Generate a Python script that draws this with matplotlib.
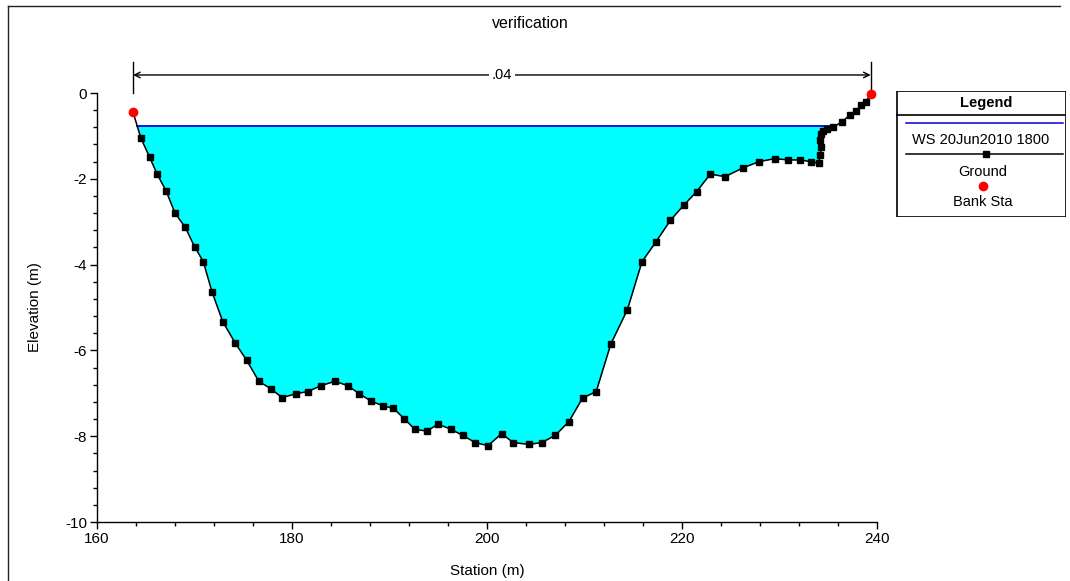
import numpy as np
import matplotlib
matplotlib.use("Agg")
import matplotlib.pyplot as plt
from matplotlib.lines import Line2D
from matplotlib.patches import Rectangle

plt.rcParams['font.family'] = ['Liberation Sans', 'DejaVu Sans']
plt.rcParams['axes.unicode_minus'] = False

# ---------------- data ----------------
station = [163.7, 164.5, 165.4, 166.15, 167.1, 168.0, 169.05, 170.0, 170.9, 171.8,
           172.9, 174.15, 175.35, 176.6, 177.8, 179.0, 180.4, 181.6, 183.0, 184.4,
           185.7, 186.9, 188.1, 189.3, 190.4, 191.5, 192.6, 193.8, 195.0, 196.3,
           197.5, 198.8, 200.1, 201.5, 202.7, 204.3, 205.6, 207.0, 208.4, 209.8,
           211.2, 212.7, 214.4, 215.9, 217.3, 218.8, 220.2, 221.5, 222.9, 224.4,
           226.3, 227.9, 229.5, 230.9, 232.1, 233.2, 234.0, 234.2, 234.3, 234.2,
           234.3, 234.5, 234.9, 235.5, 236.4, 237.2, 237.8, 238.4, 238.85, 239.35]
elevation = [-0.45, -1.05, -1.50, -1.88, -2.29, -2.80, -3.13, -3.58, -3.93, -4.64,
             -5.33, -5.82, -6.23, -6.72, -6.89, -7.10, -7.01, -6.96, -6.82, -6.72,
             -6.82, -7.01, -7.18, -7.29, -7.35, -7.59, -7.84, -7.88, -7.72, -7.84,
             -7.98, -8.15, -8.22, -7.94, -8.15, -8.19, -8.15, -7.98, -7.66, -7.11,
             -6.96, -5.85, -5.05, -3.93, -3.48, -2.97, -2.61, -2.30, -1.89, -1.95,
             -1.74, -1.60, -1.53, -1.56, -1.56, -1.60, -1.64, -1.45, -1.25, -1.10,
             -0.96, -0.88, -0.84, -0.80, -0.67, -0.52, -0.42, -0.29, -0.20, -0.03]
ws_elev = -0.77
bank_sta = [163.7, 239.35]
bank_elev = [-0.45, -0.03]
mann_n_label = ".04"
ws_label = "WS 20Jun2010 1800"

x = np.array(station)
g = np.array(elevation)

# water surface extent: first / last crossing of ground with WS
def crossing(i):
    x0, x1, y0, y1 = x[i], x[i + 1], g[i], g[i + 1]
    return x0 + (ws_elev - y0) * (x1 - x0) / (y1 - y0)

below = g < ws_elev
i_left = np.argmax(below) - 1
i_right = len(g) - np.argmax(below[::-1]) - 1
xl = crossing(i_left)
xr = crossing(i_right)

# ---------------- figure ----------------
W, H = 1070, 581
fig = plt.figure(figsize=(W / 100, H / 100), dpi=100)
ax = fig.add_axes([97 / W, 1 - 522 / H, 780 / W, 429 / H])

# water fill
xf = np.concatenate([[xl], x[i_left + 1:i_right + 1], [xr]])
gf = np.concatenate([[ws_elev], g[i_left + 1:i_right + 1], [ws_elev]])
gf = np.minimum(gf, ws_elev)
ax.fill_between(xf, gf, ws_elev, color='#00FFFF', linewidth=0, zorder=1)
ax.plot([xl, xr], [ws_elev, ws_elev], color='#0000DD', lw=1.3, zorder=2)

# ground
ax.plot(x[1:-1], g[1:-1], 's', color='black', ms=5, zorder=3, clip_on=False)
ax.plot(x, g, '-', color='black', lw=1.1, zorder=3, clip_on=False)
# bank stations
ax.plot(bank_sta, bank_elev, 'o', color='#FF0000', ms=7, zorder=4,
        clip_on=False, markeredgewidth=0)

# Manning's n dimension line
y_dim = 0.42
for bs in bank_sta:
    ax.plot([bs, bs], [0.0, 0.72], color='black', lw=1.0, clip_on=False)
mid = 0.5 * (bank_sta[0] + bank_sta[1])
ax.annotate('', xy=(bank_sta[0], y_dim), xytext=(mid, y_dim),
            arrowprops=dict(arrowstyle='->', color='black', lw=1.0,
                            shrinkA=0, shrinkB=0), annotation_clip=False)
ax.annotate('', xy=(bank_sta[1], y_dim), xytext=(mid, y_dim),
            arrowprops=dict(arrowstyle='->', color='black', lw=1.0,
                            shrinkA=0, shrinkB=0), annotation_clip=False)
ax.text(mid, y_dim, mann_n_label, ha='center', va='center', fontsize=10.5,
        bbox=dict(facecolor='white', edgecolor='none', pad=2), clip_on=False)

# axes styling
ax.set_xlim(160, 240)
ax.set_ylim(-10, 0)
ax.set_xticks([160, 180, 200, 220, 240])
ax.set_xticks(np.arange(160, 241, 4), minor=True)
ax.set_yticks([-10, -8, -6, -4, -2, 0])
ax.set_yticks(np.arange(-10, 0.01, 0.4), minor=True)
for s in ['top', 'right']:
    ax.spines[s].set_visible(False)
for s in ['left', 'bottom']:
    ax.spines[s].set_linewidth(1.0)
ax.tick_params(axis='both', which='major', length=5, width=1.0, labelsize=11, pad=2)
ax.tick_params(axis='both', which='minor', length=3, width=1.0)
ax.set_xlabel('Station (m)', fontsize=11, labelpad=13)
ax.set_ylabel('Elevation (m)', fontsize=11, labelpad=17)
ax.patch.set_alpha(0)

fig.text(530 / W, 1 - 24 / H, 'verification', ha='center', va='center', fontsize=11.5)

# figure frame (left & top)
fig.add_artist(Line2D([8 / W, 8 / W], [0, 1 - 6 / H], color='#222222', lw=1.0,
                      transform=fig.transFigure))
fig.add_artist(Line2D([8 / W, 1060 / W], [1 - 6 / H, 1 - 6 / H], color='#222222',
                      lw=1.0, transform=fig.transFigure))

# custom legend box (pixel coordinates)
lx0, lx1, ly0, ly1 = 896, 1066, 91, 217
lax = fig.add_axes([lx0 / W, 1 - ly1 / H, (lx1 - lx0) / W, (ly1 - ly0) / H])
lax.set_xlim(lx0, lx1)
lax.set_ylim(ly1, ly0)
lax.axis('off')
lax.add_patch(Rectangle((lx0 + 0.5, ly0 + 0.5), lx1 - lx0 - 1, ly1 - ly0 - 1,
                        facecolor='white', edgecolor='black', lw=1.2))
lax.plot([lx0, lx1], [115, 115], color='black', lw=1.2)
lax.text(986, 103, 'Legend', ha='center', va='center', fontsize=10.5, fontweight='bold')
lax.plot([906, 1063], [123.5, 123.5], color='#0000DD', lw=1.1)
lax.text(981, 140.5, ws_label, ha='center', va='center', fontsize=10.5)
lax.plot([906, 1063], [154.5, 154.5], color='black', lw=1.1)
lax.plot([986], [154.5], 's', color='black', ms=5)
lax.text(983, 171.5, 'Ground', ha='center', va='center', fontsize=10.5)
lax.plot([983], [186.5], 'o', color='#FF0000', ms=7, markeredgewidth=0)
lax.text(983, 201.5, 'Bank Sta', ha='center', va='center', fontsize=10.5)

fig.savefig('out.png', dpi=100)
